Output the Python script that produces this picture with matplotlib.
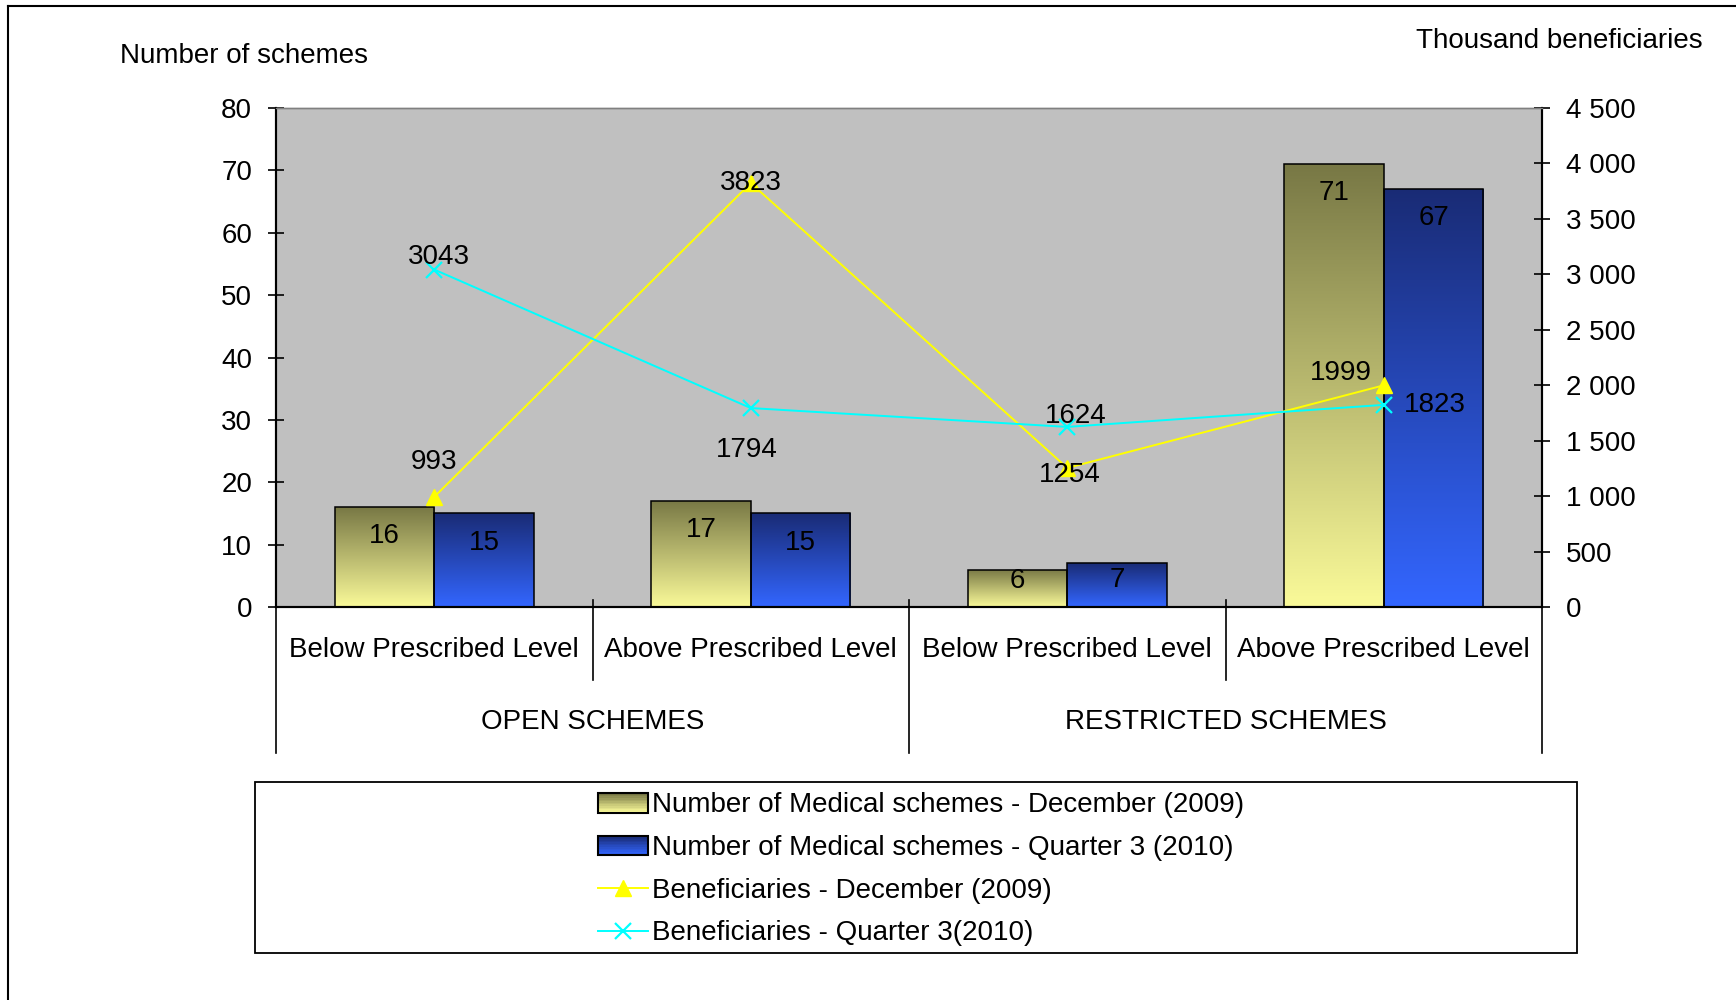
import numpy as np
import matplotlib
matplotlib.use("Agg")
import matplotlib.pyplot as plt
import matplotlib.transforms as mtransforms
from matplotlib.patches import Rectangle
from matplotlib.lines import Line2D
from matplotlib.legend_handler import HandlerBase
from matplotlib.ticker import FuncFormatter

plt.rcParams["font.family"] = ["Liberation Sans", "DejaVu Sans"]

# Data
categories = ["Below Prescribed Level", "Above Prescribed Level",
              "Below Prescribed Level", "Above Prescribed Level"]
groups = ["OPEN SCHEMES", "RESTRICTED SCHEMES"]
schemes_dec2009 = [16, 17, 6, 71]
schemes_q3_2010 = [15, 15, 7, 67]
benef_dec2009 = [993, 3823, 1254, 1999]
benef_q3_2010 = [3043, 1794, 1624, 1823]

series_labels = ["Number of Medical schemes - December (2009)",
                 "Number of Medical schemes - Quarter 3 (2010)",
                 "Beneficiaries - December (2009)",
                 "Beneficiaries - Quarter 3(2010)"]

FS = 20
yel_top, yel_bot = np.array([0.47, 0.47, 0.27]), np.array([0.98, 0.98, 0.60])
blu_top, blu_bot = np.array([0.10, 0.17, 0.46]), np.array([0.20, 0.40, 1.00])


def gradient(top, bottom, n=256):
    t = np.linspace(0, 1, n)[:, None]
    return (top * (1 - t) + bottom * t)[:, None, :]


class GradHandler(HandlerBase):
    def __init__(self, top, bottom):
        super().__init__()
        self.top, self.bottom = top, bottom

    def create_artists(self, legend, orig_handle, xdescent, ydescent,
                       width, height, fontsize, trans):
        arts = []
        n = 12
        for i in range(n):
            c = self.top * (1 - i / (n - 1)) + self.bottom * i / (n - 1)
            arts.append(Rectangle((-xdescent, -ydescent + height * (1 - (i + 1) / n)),
                                  width, height / n, facecolor=c, edgecolor="none",
                                  transform=trans))
        arts.append(Rectangle((-xdescent, -ydescent), width, height, fill=False,
                              edgecolor="black", lw=1.5, transform=trans))
        return arts


fig = plt.figure(figsize=(17.36, 10), dpi=100)
ax = fig.add_axes([276 / 1736, 393 / 1000, 1266 / 1736, 499 / 1000])
ax2 = ax.twinx()
ax.set_facecolor("#c0c0c0")

x = np.arange(len(categories))
w = 0.315

# gradient bars
for vals, top, bot, off in [(schemes_dec2009, yel_top, yel_bot, -w / 2),
                            (schemes_q3_2010, blu_top, blu_bot, w / 2)]:
    bars = ax.bar(x + off, vals, w, facecolor="none", edgecolor="black",
                  linewidth=1.1, zorder=3)
    for b in bars:
        x0, y0 = b.get_x(), b.get_y()
        im = ax.imshow(gradient(top, bot), extent=(x0, x0 + b.get_width(), y0, y0 + b.get_height()),
                       aspect="auto", zorder=2, interpolation="bilinear")
        im.set_clip_path(b)

bar_offsets = [[-21, -21, -8, -21], [-21, -21, -12, -21]]
for vals, off, offs in [(schemes_dec2009, -w / 2, bar_offsets[0]),
                        (schemes_q3_2010, w / 2, bar_offsets[1])]:
    for xi, v, o in zip(x, vals, offs):
        ax.annotate(str(v), (xi + off, v), xytext=(0, o), textcoords="offset points",
                    ha="center", va="center", fontsize=FS, zorder=5)

ax.set_xlim(-0.5, 3.5)
ax.set_ylim(0, 80)
ax.set_yticks(np.arange(0, 81, 10))

# lines on secondary axis
ax2.plot(x, benef_dec2009, color="#ffff00", lw=1.4, marker="^", markersize=11,
         zorder=4)
ax2.plot(x, benef_q3_2010, color="#00ffff", lw=1.4, marker="x", markersize=11,
         markeredgewidth=1.6, zorder=4)
ax2.set_ylim(0, 4500)
ax2.set_yticks(np.arange(0, 4501, 500))
ax2.yaxis.set_major_formatter(FuncFormatter(lambda v, p: f"{int(v):,}".replace(",", " ")))

yel_offs = [(0, 25), (0, 0), (2, -5), (-31, 9)]
cyan_offs = [(3, 9), (-3, -30), (6, 8), (37, 0)]
for vals, offs in [(benef_dec2009, yel_offs), (benef_q3_2010, cyan_offs)]:
    for xi, v, o in zip(x, vals, offs):
        ax2.annotate(str(v), (xi, v), xytext=o, textcoords="offset points",
                     ha="center", va="center", fontsize=FS, zorder=6)

# axes styling
for a in (ax, ax2):
    a.spines["top"].set_color("#808080")
    a.spines["top"].set_linewidth(1.0)
    a.spines["left"].set_linewidth(1.5)
    a.spines["right"].set_linewidth(1.5)
    a.spines["bottom"].set_linewidth(1.5)
ax.tick_params(axis="y", direction="inout", length=11.5, width=1.2, pad=11.5,
               labelsize=FS)
ax2.tick_params(axis="y", direction="inout", length=11.5, width=1.2, pad=11.5,
                labelsize=FS)

# category axis
ax.set_xticks(x)
ax.set_xticklabels([])
ax.tick_params(axis="x", length=0)
trans = mtransforms.blended_transform_factory(ax.transData, ax.transAxes)
for xi, c in zip(x, categories):
    ax.text(xi, -0.086, c, transform=trans, ha="center", va="center", fontsize=FS)
for gi, g in enumerate(groups):
    ax.text(gi * 2 + 0.5, -0.231, g, transform=trans, ha="center", va="center", fontsize=FS)
for xb in [-0.5, 1.5, 3.5]:
    ax.add_line(Line2D([xb, xb], [0.014 if xb == 1.5 else 0, -0.293], transform=trans,
                       color="black", lw=1.2, clip_on=False))
for xb in [0.5, 2.5]:
    ax.add_line(Line2D([xb, xb], [0.014, -0.146], transform=trans,
                       color="black", lw=1.2, clip_on=False))

# axis titles
fig.text(120 / 1736, 1 - 56 / 1000, "Number of schemes", ha="left", va="center", fontsize=FS)
fig.text(1703 / 1736, 1 - 41 / 1000, "Thousand beneficiaries", ha="right", va="center", fontsize=FS)

# legend with frame
fig.add_artist(Rectangle((255 / 1736, 47 / 1000), 1322 / 1736, 171 / 1000, fill=False,
                         edgecolor="black", lw=1.3, transform=fig.transFigure))
h1 = Rectangle((0, 0), 1, 1)
h2 = Rectangle((0, 0), 1, 1)
h3 = Line2D([], [], color="#ffff00", lw=1.4, marker="^", markersize=11)
h4 = Line2D([], [], color="#00ffff", lw=1.4, marker="x", markersize=11, markeredgewidth=1.6)
fig.legend([h1, h2, h3, h4], series_labels, loc="center",
           bbox_to_anchor=(921 / 1736, 1 - 869.5 / 1000), frameon=False, fontsize=FS,
           handlelength=1.8, handletextpad=0.15, labelspacing=0.6, borderpad=0,
           handler_map={h1: GradHandler(yel_top, yel_bot), h2: GradHandler(blu_top, blu_bot)})

# outer frame (top and left visible)
fig.add_artist(Line2D([8 / 1736, 8 / 1736], [0, 1 - 6 / 1000], color="black", lw=1.5,
                      transform=fig.transFigure))
fig.add_artist(Line2D([8 / 1736, 1], [1 - 6 / 1000, 1 - 6 / 1000], color="black", lw=1.5,
                      transform=fig.transFigure))

fig.savefig("out.png", dpi=100)
